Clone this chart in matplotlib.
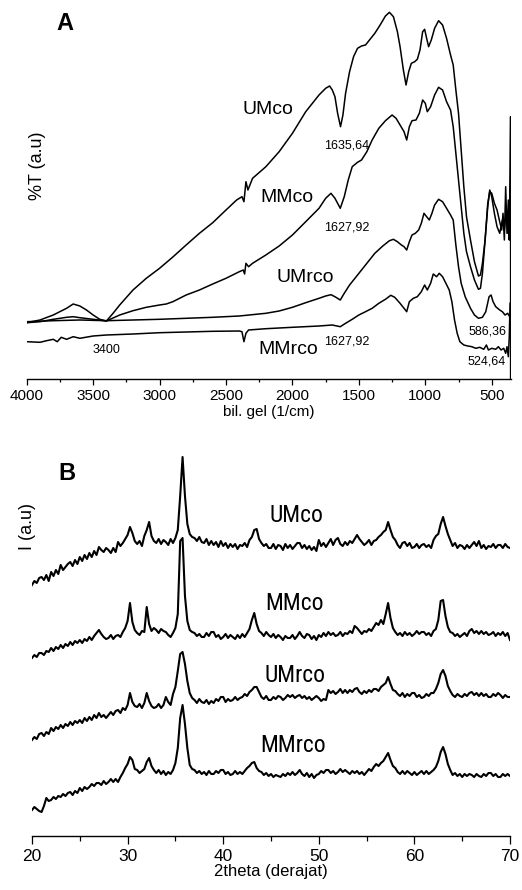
import matplotlib
matplotlib.use("Agg")
import numpy as np
import matplotlib.pyplot as plt
from matplotlib import font_manager as fm
from matplotlib.font_manager import FontProperties
from matplotlib.ticker import MultipleLocator

# ---------------- FTIR (panel A) ----------------
umco_wn = [4000, 3900, 3800, 3700, 3650, 3600, 3550, 3500, 3450, 3400, 3350, 3300, 3200, 3100, 3000,
           2900, 2800, 2700, 2600, 2500, 2420, 2380, 2365, 2350, 2335, 2300, 2200, 2100, 2000, 1900,
           1800, 1750, 1720, 1700, 1680, 1660, 1638, 1620, 1600, 1570, 1540, 1510, 1480, 1450, 1420,
           1380, 1340, 1300, 1270, 1240, 1210, 1190, 1165, 1145, 1125, 1105, 1080, 1060, 1040, 1020,
           1005, 990, 975, 955, 930, 900, 870, 840, 810, 790, 770, 750, 730, 710, 690, 660, 630, 600,
           585, 570, 550, 530, 515, 500, 480, 460, 440, 425, 415, 405, 395, 385, 375, 368, 362, 358, 358]
umco_t = [56.3, 59, 64, 70.7, 75, 73, 69, 64, 59.7, 58, 65.7, 74, 89, 100.7, 110.7,
          122, 134, 145.7, 156.3, 169, 179, 182.3, 177.3, 197.3, 189, 200.7, 212.3, 227.3, 245.7, 267.3,
          284, 290.7, 293, 289, 282.3, 265.7, 252.3, 264, 285.7, 307.3, 322.3, 330.7, 333, 334, 339,
          345.7, 354, 363, 366.7, 362.3, 347.3, 332.3, 309, 294, 307.3, 315.7, 317.3, 319.7, 329, 347.3,
          349.7, 340.7, 332.3, 339, 350.7, 358.3, 354, 340.7, 324, 314, 289, 265.7, 229, 192.3, 162.3, 139, 117.3, 103,
          104, 115.7, 139, 175.7, 187.3, 185.7, 175.7, 169, 157.3, 149, 165.7, 139, 192.3, 145.7, 179, 139, 199, 262.3, 0]

mmco_wn = [4000, 3900, 3800, 3700, 3650, 3600, 3500, 3400, 3300, 3200, 3100, 3000, 2950, 2900, 2800,
           2700, 2600, 2500, 2400, 2370, 2360, 2350, 2330, 2300, 2200, 2100, 2000, 1900, 1800, 1750,
           1710, 1680, 1640, 1610, 1580, 1550, 1510, 1480, 1440, 1400, 1350, 1300, 1250, 1220, 1190,
           1160, 1140, 1120, 1100, 1070, 1045, 1020, 1000, 985, 960, 930, 900, 870, 840, 810, 790, 770,
           750, 730, 710, 690, 660, 630, 600, 585, 570, 550, 530, 515, 500, 480, 460, 440, 420, 405,
           390, 378, 366, 360]
mmco_t = [56.3, 57.3, 59.7, 61.7, 62.3, 61.3, 59.7, 58, 64, 68.3, 71.7, 74, 75, 77.3, 84,
          89, 95, 100.7, 107.3, 109, 105, 115.7, 112.3, 115.7, 124, 133, 144, 157.3, 170.7, 180.7,
          185.7, 180.7, 170.7, 182.3, 199, 212.3, 216.7, 219, 227.3, 239, 250.7, 258.3, 264, 260.7, 254,
          247.3, 239, 252.3, 258.3, 259, 265.7, 279, 275.7, 267.3, 272.3, 284, 291.7, 289, 277.3, 269, 252.3, 225.7,
          199, 172.3, 145.7, 127.3, 112.3, 99, 89.7, 90.7, 105.7, 139, 172.3, 189, 182.3, 165.7, 152.3, 145.7, 159, 149,
          169, 145.7, 159, 139]

umrco_wn = [4000, 3800, 3600, 3400, 3200, 3000, 2800, 2600, 2400, 2200, 2100, 2000, 1900, 1800, 1750,
            1710, 1680, 1640, 1610, 1570, 1520, 1450, 1380, 1320, 1270, 1240, 1210, 1180, 1160, 1140,
            1120, 1100, 1075, 1050, 1030, 1010, 990, 970, 950, 930, 900, 870, 840, 810, 790, 770, 750,
            730, 700, 660, 630, 600, 570, 545, 520, 505, 490, 470, 440, 420, 400, 380, 365]
umrco_t = [57.3, 58.3, 59, 58.3, 59, 59.7, 60.7, 61.7, 63, 65.7, 68, 71.7, 76.3, 80.7, 83,
           84.3, 82.3, 79, 85.7, 94, 102.3, 114, 125.7, 133, 138.3, 139.7, 137.3, 134, 132.3, 129,
           137.3, 144, 145.7, 149, 155.7, 165.7, 162.3, 159, 165.7, 174, 179.7, 177.3, 170.7, 164, 159, 134, 112.3,
           95.7, 82.3, 70.7, 64, 60.7, 61.7, 67.3, 82.3, 84, 77.3, 72.3, 69, 67.3, 64, 65.7, 62.3]

mmrco_wn = [4000, 3900, 3850, 3800, 3770, 3740, 3700, 3650, 3600, 3500, 3400, 3200, 3000, 2800, 2600,
            2400, 2380, 2365, 2350, 2330, 2200, 2000, 1800, 1700, 1640, 1600, 1550, 1500, 1450, 1400,
            1350, 1300, 1260, 1230, 1190, 1160, 1140, 1120, 1090, 1060, 1030, 1005, 985, 960, 940, 915,
            895, 870, 845, 820, 800, 780, 760, 740, 710, 680, 650, 620, 590, 560, 540, 525, 500, 470,
            450, 430, 410, 395, 385, 375, 368, 362]
mmrco_t = [37.3, 36.7, 38.3, 39.7, 37.3, 41.7, 39.7, 42.3, 40.7, 43, 44, 45, 46.3, 47, 47.7,
           48, 47.3, 37.3, 45.7, 49, 50.3, 51.7, 53, 54, 52.3, 55.7, 59.7, 64, 67.3, 70.7,
           75.7, 79.7, 83.7, 81.7, 75.7, 70.7, 67.3, 77.3, 80.7, 82.3, 87.3, 94, 89, 95.7, 105, 102.3,
           105.7, 102.3, 95.7, 89, 77.3, 59, 45.7, 37.3, 34, 33, 32.3, 30.7, 31.7, 29.7, 34, 29, 30.7, 29.7,
           32.3, 29, 30.7, 25.7, 32.3, 22.3, 42.3, 75.7]

ftir_ticks = [4000, 3500, 3000, 2500, 2000, 1500, 1000, 500]

# ---------------- XRD (panel B): 2theta from 20 to 70 in 0.25 deg steps ----------------
xrd_start, xrd_step = 20.0, 0.25

xrd_umco = [251, 255, 253, 258, 259, 256, 261, 255, 264, 260, 266, 262, 271, 266, 269, 272,
            274, 270, 276, 272, 279, 275, 281, 277, 283, 279, 285, 281, 289, 286, 284, 288,
            286, 283, 288, 284, 294, 290, 293, 297, 301, 309, 303, 295, 292, 295, 290, 300,
            306, 314, 300, 295, 293, 297, 292, 296, 294, 291, 297, 293, 298, 306, 340, 379,
            340, 312, 302, 299, 298, 295, 299, 294, 293, 297, 291, 295, 291, 294, 289, 295,
            290, 293, 288, 292, 289, 292, 287, 291, 290, 293, 289, 296, 299, 306, 307, 297,
            293, 290, 292, 288, 288, 292, 287, 291, 290, 286, 292, 288, 291, 287, 290, 293,
            293, 288, 291, 287, 290, 286, 289, 285, 296, 290, 293, 289, 293, 297, 291, 296,
            298, 292, 290, 294, 291, 295, 293, 297, 301, 297, 294, 291, 293, 296, 291, 295,
            296, 299, 301, 304, 306, 314, 306, 299, 296, 291, 288, 293, 294, 290, 293, 288,
            289, 292, 288, 291, 292, 289, 291, 288, 296, 300, 302, 312, 319, 310, 302, 296,
            290, 293, 288, 291, 290, 287, 291, 288, 291, 294, 290, 295, 288, 291, 287, 290,
            289, 292, 288, 291, 291, 288, 292, 289, 288]

xrd_mmco = [178, 181, 179, 183, 183, 181, 185, 184, 188, 185, 189, 187, 191, 188, 192, 190,
            194, 191, 195, 193, 196, 193, 197, 195, 199, 196, 200, 203, 206, 202, 199, 197,
            198, 201, 197, 200, 201, 199, 204, 208, 215, 233, 214, 206, 203, 201, 205, 204,
            229, 212, 205, 208, 206, 203, 207, 205, 204, 201, 199, 203, 208, 222, 295, 298,
            240, 215, 206, 204, 203, 200, 202, 199, 199, 203, 200, 204, 204, 199, 201, 197,
            199, 202, 198, 201, 199, 197, 201, 198, 202, 199, 203, 207, 216, 223, 212, 205,
            203, 200, 204, 201, 199, 202, 198, 201, 199, 196, 200, 198, 198, 201, 197, 200,
            204, 200, 198, 202, 201, 197, 200, 196, 201, 199, 203, 200, 204, 201, 203, 200,
            201, 204, 200, 203, 202, 205, 203, 210, 208, 205, 202, 205, 204, 207, 205, 209,
            213, 211, 216, 212, 222, 233, 218, 208, 204, 201, 203, 200, 204, 201, 203, 200,
            202, 205, 202, 204, 204, 201, 203, 200, 205, 207, 216, 235, 236, 220, 209, 204,
            203, 200, 202, 199, 201, 203, 200, 205, 207, 203, 205, 202, 205, 202, 204, 201,
            202, 204, 200, 203, 201, 204, 200, 203, 196]

xrd_umrco = [96, 99, 97, 102, 103, 100, 104, 102, 108, 105, 109, 107, 111, 108, 112, 110,
             114, 111, 115, 113, 116, 113, 118, 115, 119, 116, 121, 118, 123, 119, 121, 118,
             121, 124, 121, 125, 126, 123, 128, 126, 131, 143, 134, 130, 129, 132, 128, 133,
             143, 135, 130, 128, 129, 132, 128, 131, 139, 134, 131, 142, 149, 165, 182, 184,
             172, 155, 143, 138, 136, 133, 137, 134, 133, 136, 132, 135, 133, 137, 135, 139,
             139, 134, 137, 135, 136, 139, 136, 138, 139, 142, 140, 144, 146, 149, 149, 144,
             139, 137, 140, 136, 136, 139, 137, 140, 139, 136, 138, 141, 139, 141, 138, 140,
             141, 138, 140, 137, 139, 136, 138, 140, 138, 135, 137, 136, 146, 143, 145, 142,
             144, 147, 143, 146, 143, 146, 144, 147, 148, 144, 142, 145, 143, 146, 144, 147,
             147, 145, 149, 151, 153, 159, 152, 146, 145, 142, 140, 143, 139, 142, 140, 143,
             143, 139, 141, 138, 139, 142, 140, 143, 143, 147, 153, 162, 166, 160, 150, 145,
             141, 139, 142, 140, 139, 142, 140, 143, 144, 141, 143, 140, 143, 140, 142, 139,
             139, 142, 140, 143, 141, 138, 141, 139, 139]

xrd_mmrco = [26, 29, 27, 25, 24, 30, 38, 35, 36, 39, 37, 40, 39, 42, 40, 43,
             44, 41, 45, 43, 48, 45, 49, 47, 49, 52, 50, 53, 53, 51, 55, 52,
             54, 57, 54, 57, 54, 59, 63, 68, 72, 79, 76, 67, 66, 63, 65, 67,
             74, 78, 70, 66, 63, 66, 62, 65, 61, 64, 62, 66, 73, 88, 118, 131,
             112, 88, 71, 67, 66, 63, 65, 62, 64, 61, 65, 62, 62, 65, 63, 66,
             66, 62, 64, 61, 62, 65, 62, 64, 62, 65, 68, 70, 73, 74, 68, 65,
             64, 61, 63, 60, 62, 59, 61, 60, 59, 62, 60, 63, 61, 64, 61, 63,
             66, 62, 60, 63, 59, 62, 58, 61, 62, 65, 63, 66, 66, 63, 65, 62,
             64, 67, 64, 66, 64, 62, 65, 63, 65, 62, 64, 61, 64, 67, 65, 69,
             72, 70, 73, 75, 79, 83, 76, 70, 68, 64, 62, 65, 62, 65, 63, 61,
             64, 61, 63, 65, 62, 65, 62, 64, 66, 69, 75, 84, 89, 82, 72, 66,
             61, 63, 60, 62, 59, 62, 60, 62, 61, 59, 62, 60, 59, 62, 60, 63,
             63, 60, 62, 59, 59, 62, 60, 62, 60]

xrd_ticks = [20, 30, 40, 50, 60, 70]

# ---------------- fonts ----------------
names = {f.name for f in fm.fontManager.ttflist}
REG = "Liberation Sans" if "Liberation Sans" in names else "DejaVu Sans"
plt.rcParams["font.family"] = [REG, "DejaVu Sans"]


def find_condensed():
    prefs = ["Liberation Sans Narrow", "Arial Narrow", "Roboto Condensed", "Open Sans Condensed",
             "Noto Sans Condensed", "DejaVu Sans Condensed"]
    cands = []
    for f in fm.fontManager.ttflist:
        st = f.stretch
        cond = ("Narrow" in f.name or "Condensed" in f.name or
                (isinstance(st, str) and st in ("condensed", "semi-condensed")) or
                (isinstance(st, (int, float)) and 300 <= st < 500))
        if not cond:
            continue
        if f.style != "normal":
            continue
        w = f.weight if isinstance(f.weight, (int, float)) else (400 if f.weight in ("normal", "regular", "book") else 700)
        if w > 500 or w < 350:
            continue
        fn = f.fname.lower()
        if "extra" in fn or "ultra" in fn or "semi" in fn:
            continue
        rank = len(prefs)
        for i, p in enumerate(prefs):
            if f.name == p:
                rank = i
        cands.append((rank, f.fname))
    if cands:
        cands.sort()
        return cands[0][1]
    return None


cond_file = find_condensed()

W, H = 522, 890
fig = plt.figure(figsize=(W / 100, H / 100), dpi=100)

# ---------------- panel A ----------------
axA = fig.add_axes([26.7 / W, 1 - 379 / H, (511.4 - 26.7) / W, 374 / H])
for wn, t in [(umco_wn, umco_t), (mmco_wn, mmco_t), (umrco_wn, umrco_t), (mmrco_wn, mmrco_t)]:
    axA.plot(wn, t, color="black", lw=1.1, solid_joinstyle="round")
axA.set_xlim(4000, 352)
axA.set_ylim(0, 374)
for s in ["top", "left", "right"]:
    axA.spines[s].set_visible(False)
axA.spines["bottom"].set_linewidth(1.0)
axA.set_yticks([])
axA.set_xticks(ftir_ticks)
axA.xaxis.set_minor_locator(MultipleLocator(250))
axA.tick_params(axis="x", which="major", length=4.3, width=0.9, pad=3, labelsize=11)
axA.tick_params(axis="x", which="minor", length=2.4, width=0.9)
axA.set_xlabel("bil. gel (1/cm)", fontsize=11, labelpad=1)

lab_kw = dict(ha="center", va="center", fontsize=14)
axA.text(2184, 269, "UMco", **lab_kw)
axA.text(2041, 181, "MMco", **lab_kw)
axA.text(1905, 102, "UMrco", **lab_kw)
axA.text(2034, 29, "MMrco", **lab_kw)
sm_kw = dict(ha="center", va="center", fontsize=9)
axA.text(1589, 233, "1635,64", **sm_kw)
axA.text(1589, 151, "1627,92", **sm_kw)
axA.text(1589, 37, "1627,92", **sm_kw)
axA.text(3403, 29, "3400", **sm_kw)
axA.text(535, 48, "586,36", **sm_kw)
axA.text(535, 17, "524,64", **sm_kw)

fig.text(65 / W, 1 - 23 / H, "A", fontsize=17, fontweight="bold", ha="center", va="center")
fig.text(37 / W, 1 - 166 / H, "%T (a.u)", fontsize=13, rotation=90, ha="center", va="center")

# ---------------- panel B ----------------
axB = fig.add_axes([32 / W, 1 - 836 / H, 478 / W, 384 / H])
for series in [xrd_umco, xrd_mmco, xrd_umrco, xrd_mmrco]:
    xs = xrd_start + xrd_step * np.arange(len(series))
    axB.plot(xs, series, color="black", lw=1.5, solid_joinstyle="round")
axB.set_xlim(20, 70)
axB.set_ylim(0, 384)
for s in ["top", "left", "right"]:
    axB.spines[s].set_visible(False)
axB.spines["bottom"].set_linewidth(1.0)
axB.set_yticks([])
axB.set_xticks(xrd_ticks)
axB.xaxis.set_minor_locator(MultipleLocator(5))
axB.tick_params(axis="x", which="major", length=6, width=0.9, pad=3.5, labelsize=12.5)
axB.tick_params(axis="x", which="minor", length=3.5, width=0.9)
axB.set_xlabel("2theta (derajat)", fontsize=12, labelpad=0)

if cond_file:
    nb_fp = FontProperties(fname=cond_file, size=17)
else:
    nb_fp = FontProperties(family=REG, size=15)
nb_kw = dict(ha="center", va="center", fontproperties=nb_fp)
axB.text(47.7, 321, "UMco", **nb_kw)
axB.text(47.5, 233, "MMco", **nb_kw)
axB.text(47.5, 161, "UMrco", **nb_kw)
axB.text(47.3, 91, "MMrco", **nb_kw)

fig.text(67 / W, 1 - 473 / H, "B", fontsize=17, fontweight="bold", ha="center", va="center")
fig.text(27 / W, 1 - 527 / H, "I (a.u)", fontsize=13, rotation=90, ha="center", va="center")

fig.savefig("out.png", dpi=100)
